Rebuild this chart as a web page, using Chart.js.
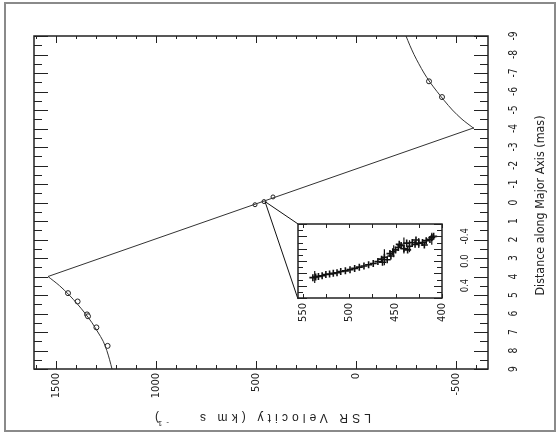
<!DOCTYPE html>
<html>
<head>
<meta charset="utf-8">
<script src="https://cdn.jsdelivr.net/npm/chart.js@4.4.1/dist/chart.umd.min.js"></script>
<style>
  body { margin: 0; background: #fff; }
  #wrap { position: relative; width: 557px; height: 433px; }
  #wrap canvas { position: absolute; left: 0; top: 0; }
  #insetChart { pointer-events: none; }
</style>
</head>
<body>
<div id="wrap">
  <canvas id="mainChart" width="557" height="433"></canvas>
  <canvas id="insetChart" width="557" height="433"></canvas>
</div>
<script>
// tick labels
const velTicks = [1500, 1000, 500, 0, -500];
const distTicks = [-9, -8, -7, -6, -5, -4, -3, -2, -1, 0, 1, 2, 3, 4, 5, 6, 7, 8, 9];
const insetVelTicks = [550, 500, 450, 400];
const insetDistTicks = [-0.4, 0.0, 0.4];

// red-shifted model curve (distance mas, velocity km/s)
const redCurveDist = [4.0, 4.5, 5.0, 5.5, 6.0, 6.5, 7.0, 7.5, 8.0, 8.5, 9.0];
const redCurveVel = [1540, 1482, 1434, 1392, 1354, 1320, 1291, 1264, 1246, 1232, 1220];
// blue-shifted model curve
const blueCurveDist = [-4.0, -4.5, -5.0, -5.5, -6.0, -6.5, -7.0, -7.5, -8.0, -8.5, -9.0];
const blueCurveVel = [-590, -530, -482, -442, -405, -370, -340, -314, -290, -269, -250];
// straight line through the systemic masers
const sysLineDist = [4.0, -4.04];
const sysLineVel = [1540, -590];

// measured masers in the main panel
const redDist = [4.9, 5.35, 6.05, 6.15, 6.75, 7.75];
const redVel = [1440, 1392, 1345, 1340, 1298, 1242];
const blueDist = [-5.7, -6.55];
const blueVel = [-430, -365];
const sysDist = [0.12, -0.05, -0.3];
const sysVel = [505, 460, 415];

// zoom lines from the systemic group to the inset corners
const zoomFromDist = -0.05, zoomFromVel = 455;
const zoomToDist = [1.16, 5.22];
const zoomToVel = [290, 290];

// inset: systemic masers
const insetVel = [539, 536, 533, 529, 525, 521, 517, 513, 509, 504, 499, 494, 489, 484, 479, 474,
                  469, 465, 462, 459, 456, 453, 450, 447, 444, 441, 438, 435, 432, 429, 425, 421,
                  417, 413, 411, 409, 464, 455, 446, 437, 428, 419];
const insetDist = [0.27, 0.26, 0.25, 0.24, 0.22, 0.21, 0.2, 0.19, 0.17, 0.16, 0.14, 0.12, 0.1, 0.08, 0.06, 0.04,
                   0.01, -0.03, -0.06, -0.02, -0.12, -0.15, -0.18, -0.22, -0.25, -0.2, -0.29, -0.24, -0.3, -0.27, -0.29, -0.3,
                   -0.33, -0.35, -0.38, -0.4, 0.02, -0.08, -0.27, -0.18, -0.34, -0.26];
// inset points that carry a longer vertical error bar
const barVel = [537, 462, 452, 441, 435, 425, 411];
const barDist = [0.26, -0.06, -0.16, -0.25, -0.24, -0.29, -0.36];
const barSize = [6, 8, 6, 8, 6, 5, 6];

const narrow = "'Liberation Sans Narrow', 'DejaVu Sans Condensed', 'Liberation Sans', sans-serif";
const ink = '#222';

function pts(xs, ys) {
    return xs.map((v, i) => ({ x: v, y: ys[i] }));
}

// ticks drawn inward on all four sides plus the frame
const frameTicks = {
    id: 'frameTicks',
    afterDatasetsDraw(chart, args, o) {
        const { ctx, chartArea: a, scales: { x, y } } = chart;
        ctx.save();
        ctx.strokeStyle = ink;
        ctx.lineWidth = 1;
        ctx.beginPath();
        const i0 = Math.ceil(Math.min(x.min, x.max) / o.xStep - 1e-9);
        const i1 = Math.floor(Math.max(x.min, x.max) / o.xStep + 1e-9);
        for (let i = i0; i <= i1; i++) {
            const px = Math.round(x.getPixelForValue(i * o.xStep)) + 0.5;
            const major = i % o.xEvery === 0;
            const lb = major ? o.bottom[0] : o.bottom[1];
            const lt = major ? o.top[0] : o.top[1];
            ctx.moveTo(px, a.bottom); ctx.lineTo(px, a.bottom - lb);
            ctx.moveTo(px, a.top); ctx.lineTo(px, a.top + lt);
        }
        const j0 = Math.ceil(Math.min(y.min, y.max) / o.yStep - 1e-9);
        const j1 = Math.floor(Math.max(y.min, y.max) / o.yStep + 1e-9);
        for (let j = j0; j <= j1; j++) {
            const py = Math.round(y.getPixelForValue(j * o.yStep)) + 0.5;
            const major = j % o.yEvery === 0;
            const ll = major ? o.left[0] : o.left[1];
            const lr = major ? o.right[0] : o.right[1];
            ctx.moveTo(a.left, py); ctx.lineTo(a.left + ll, py);
            ctx.moveTo(a.right, py); ctx.lineTo(a.right - lr, py);
        }
        ctx.stroke();
        ctx.lineWidth = 1.5;
        ctx.strokeRect(a.left, a.top, a.width, a.height);
        ctx.restore();
    }
};

// rotated labels for the right-hand axis
const sideLabels = {
    id: 'sideLabels',
    afterDraw(chart, args, o) {
        const { ctx, scales: { y } } = chart;
        ctx.save();
        ctx.fillStyle = ink;
        ctx.font = o.font;
        ctx.textAlign = 'center';
        ctx.textBaseline = 'middle';
        o.ticks.forEach(t => {
            ctx.save();
            ctx.translate(o.x, y.getPixelForValue(t));
            ctx.rotate(-Math.PI / 2);
            ctx.scale(0.85, 1);
            ctx.fillText(o.format(t), 0, 0);
            ctx.restore();
        });
        ctx.restore();
    }
};

// axis titles, outer frame
const titles = {
    id: 'titles',
    beforeDraw(chart) {
        const ctx = chart.ctx;
        ctx.save();
        ctx.fillStyle = '#fff';
        ctx.fillRect(0, 0, chart.width, chart.height);
        ctx.strokeStyle = '#8a8a8a';
        ctx.lineWidth = 2;
        ctx.strokeRect(5, 3, 550, 428);
        ctx.restore();
    },
    afterDraw(chart) {
        const ctx = chart.ctx;
        const a = chart.chartArea;
        ctx.save();
        ctx.fillStyle = ink;
        // right title reads bottom to top, squeezed like the narrow original
        const rightText = 'Distance along Major Axis (mas)';
        ctx.font = '13px ' + narrow;
        ctx.textAlign = 'center';
        ctx.textBaseline = 'middle';
        ctx.translate(541, (a.top + a.bottom) / 2 + 3);
        ctx.rotate(-Math.PI / 2);
        ctx.scale(180 / ctx.measureText(rightText).width, 1);
        ctx.fillText(rightText, 0, 0);
        ctx.restore();

        // bottom title is upside down
        ctx.save();
        ctx.fillStyle = ink;
        ctx.translate((a.left + a.right) / 2 + 2, 417);
        ctx.rotate(Math.PI);
        const main = 'LSR Velocity (km s';
        ctx.font = '12px "Liberation Sans", Arial, sans-serif';
        ctx.textBaseline = 'middle';
        ctx.textAlign = 'left';
        if ('letterSpacing' in ctx) {
            const w = ctx.measureText(main).width;
            ctx.letterSpacing = Math.max(0, (171 - w) / (main.length - 1)) + 'px';
        }
        ctx.fillText(main, -108, 0);
        ctx.font = '8px "Liberation Sans", Arial, sans-serif';
        ctx.fillText('-1', 94, -6);
        ctx.font = '12px "Liberation Sans", Arial, sans-serif';
        ctx.fillText(')', 104, 0);
        ctx.restore();
    }
};

const curveStyle = { showLine: true, pointRadius: 0, borderColor: '#333', borderWidth: 1 };
const circleStyle = {
    showLine: false, pointStyle: 'circle', pointRadius: 2.5,
    pointBackgroundColor: '#fff', pointBorderColor: '#222', pointBorderWidth: 1
};

new Chart(document.getElementById('mainChart'), {
    type: 'scatter',
    data: {
        datasets: [
            { ...curveStyle, data: pts(redCurveVel, redCurveDist), tension: 0.3 },
            { ...curveStyle, data: pts(blueCurveVel, blueCurveDist), tension: 0.3 },
            { ...curveStyle, data: pts(sysLineVel, sysLineDist) },
            { ...curveStyle, borderColor: '#111', data: [{ x: zoomFromVel, y: zoomFromDist }, { x: zoomToVel[0], y: zoomToDist[0] }] },
            { ...curveStyle, borderColor: '#111', data: [{ x: zoomFromVel, y: zoomFromDist }, { x: zoomToVel[1], y: zoomToDist[1] }] },
            { ...circleStyle, data: pts(redVel, redDist) },
            { ...circleStyle, data: pts(blueVel, blueDist) },
            { ...circleStyle, pointRadius: 2, data: pts(sysVel, sysDist) }
        ]
    },
    options: {
        responsive: false,
        animation: false,
        devicePixelRatio: 1,
        layout: { padding: { left: 34, top: 36, right: 69, bottom: 0 } },
        plugins: {
            legend: { display: false },
            tooltip: { enabled: false },
            frameTicks: { xStep: 100, xEvery: 5, yStep: 0.5, yEvery: 2, top: [7, 3], bottom: [8, 4], left: [14, 8], right: [14, 8] },
            sideLabels: { ticks: distTicks, x: 514, font: '12px ' + narrow, format: t => String(t) }
        },
        scales: {
            x: {
                type: 'linear', position: 'bottom', min: -660, max: 1610, reverse: true,
                grid: { display: false, drawTicks: false },
                border: { display: false },
                ticks: {
                    minRotation: 90, maxRotation: 90, padding: 4, color: ink,
                    font: { family: narrow, size: 11 }, callback: v => String(v)
                },
                afterBuildTicks: s => { s.ticks = velTicks.map(v => ({ value: v })); },
                afterFit: s => { s.height = 64; }
            },
            y: { type: 'linear', position: 'right', min: -9, max: 9, reverse: true, display: false }
        }
    },
    plugins: [titles, frameTicks, sideLabels]
});

// inset panel drawn on an overlaid canvas
new Chart(document.getElementById('insetChart'), {
    type: 'scatter',
    data: {
        datasets: [
            {
                data: pts(insetVel, insetDist), pointStyle: 'cross', pointRadius: 3.5,
                pointBorderColor: '#111', pointBorderWidth: 1.6
            },
            {
                data: pts(barVel, barDist), pointStyle: 'line', pointRotation: 90,
                pointRadius: barSize, pointBorderColor: '#111', pointBorderWidth: 1.2
            }
        ]
    },
    options: {
        responsive: false,
        animation: false,
        devicePixelRatio: 1,
        layout: { padding: { left: 298, top: 224, right: 115, bottom: 0 } },
        plugins: {
            legend: { display: false },
            tooltip: { enabled: false },
            frameTicks: { xStep: 25, xEvery: 2, yStep: 0.1, yEvery: 2, top: [4, 4], bottom: [4, 4], left: [9, 5], right: [8, 5] },
            sideLabels: { ticks: insetDistTicks, x: 465, font: '11px ' + narrow, format: t => t.toFixed(1) }
        },
        scales: {
            x: {
                type: 'linear', position: 'bottom', min: 400, max: 555, reverse: true,
                grid: { display: false, drawTicks: false },
                border: { display: false },
                ticks: {
                    minRotation: 90, maxRotation: 90, padding: 5, color: ink,
                    font: { family: narrow, size: 11 }, callback: v => String(v)
                },
                afterBuildTicks: s => { s.ticks = insetVelTicks.map(v => ({ value: v })); },
                afterFit: s => { s.height = 135; }
            },
            y: { type: 'linear', position: 'right', min: -0.6, max: 0.6, reverse: true, display: false }
        }
    },
    plugins: [frameTicks, sideLabels]
});
</script>
</body>
</html>
